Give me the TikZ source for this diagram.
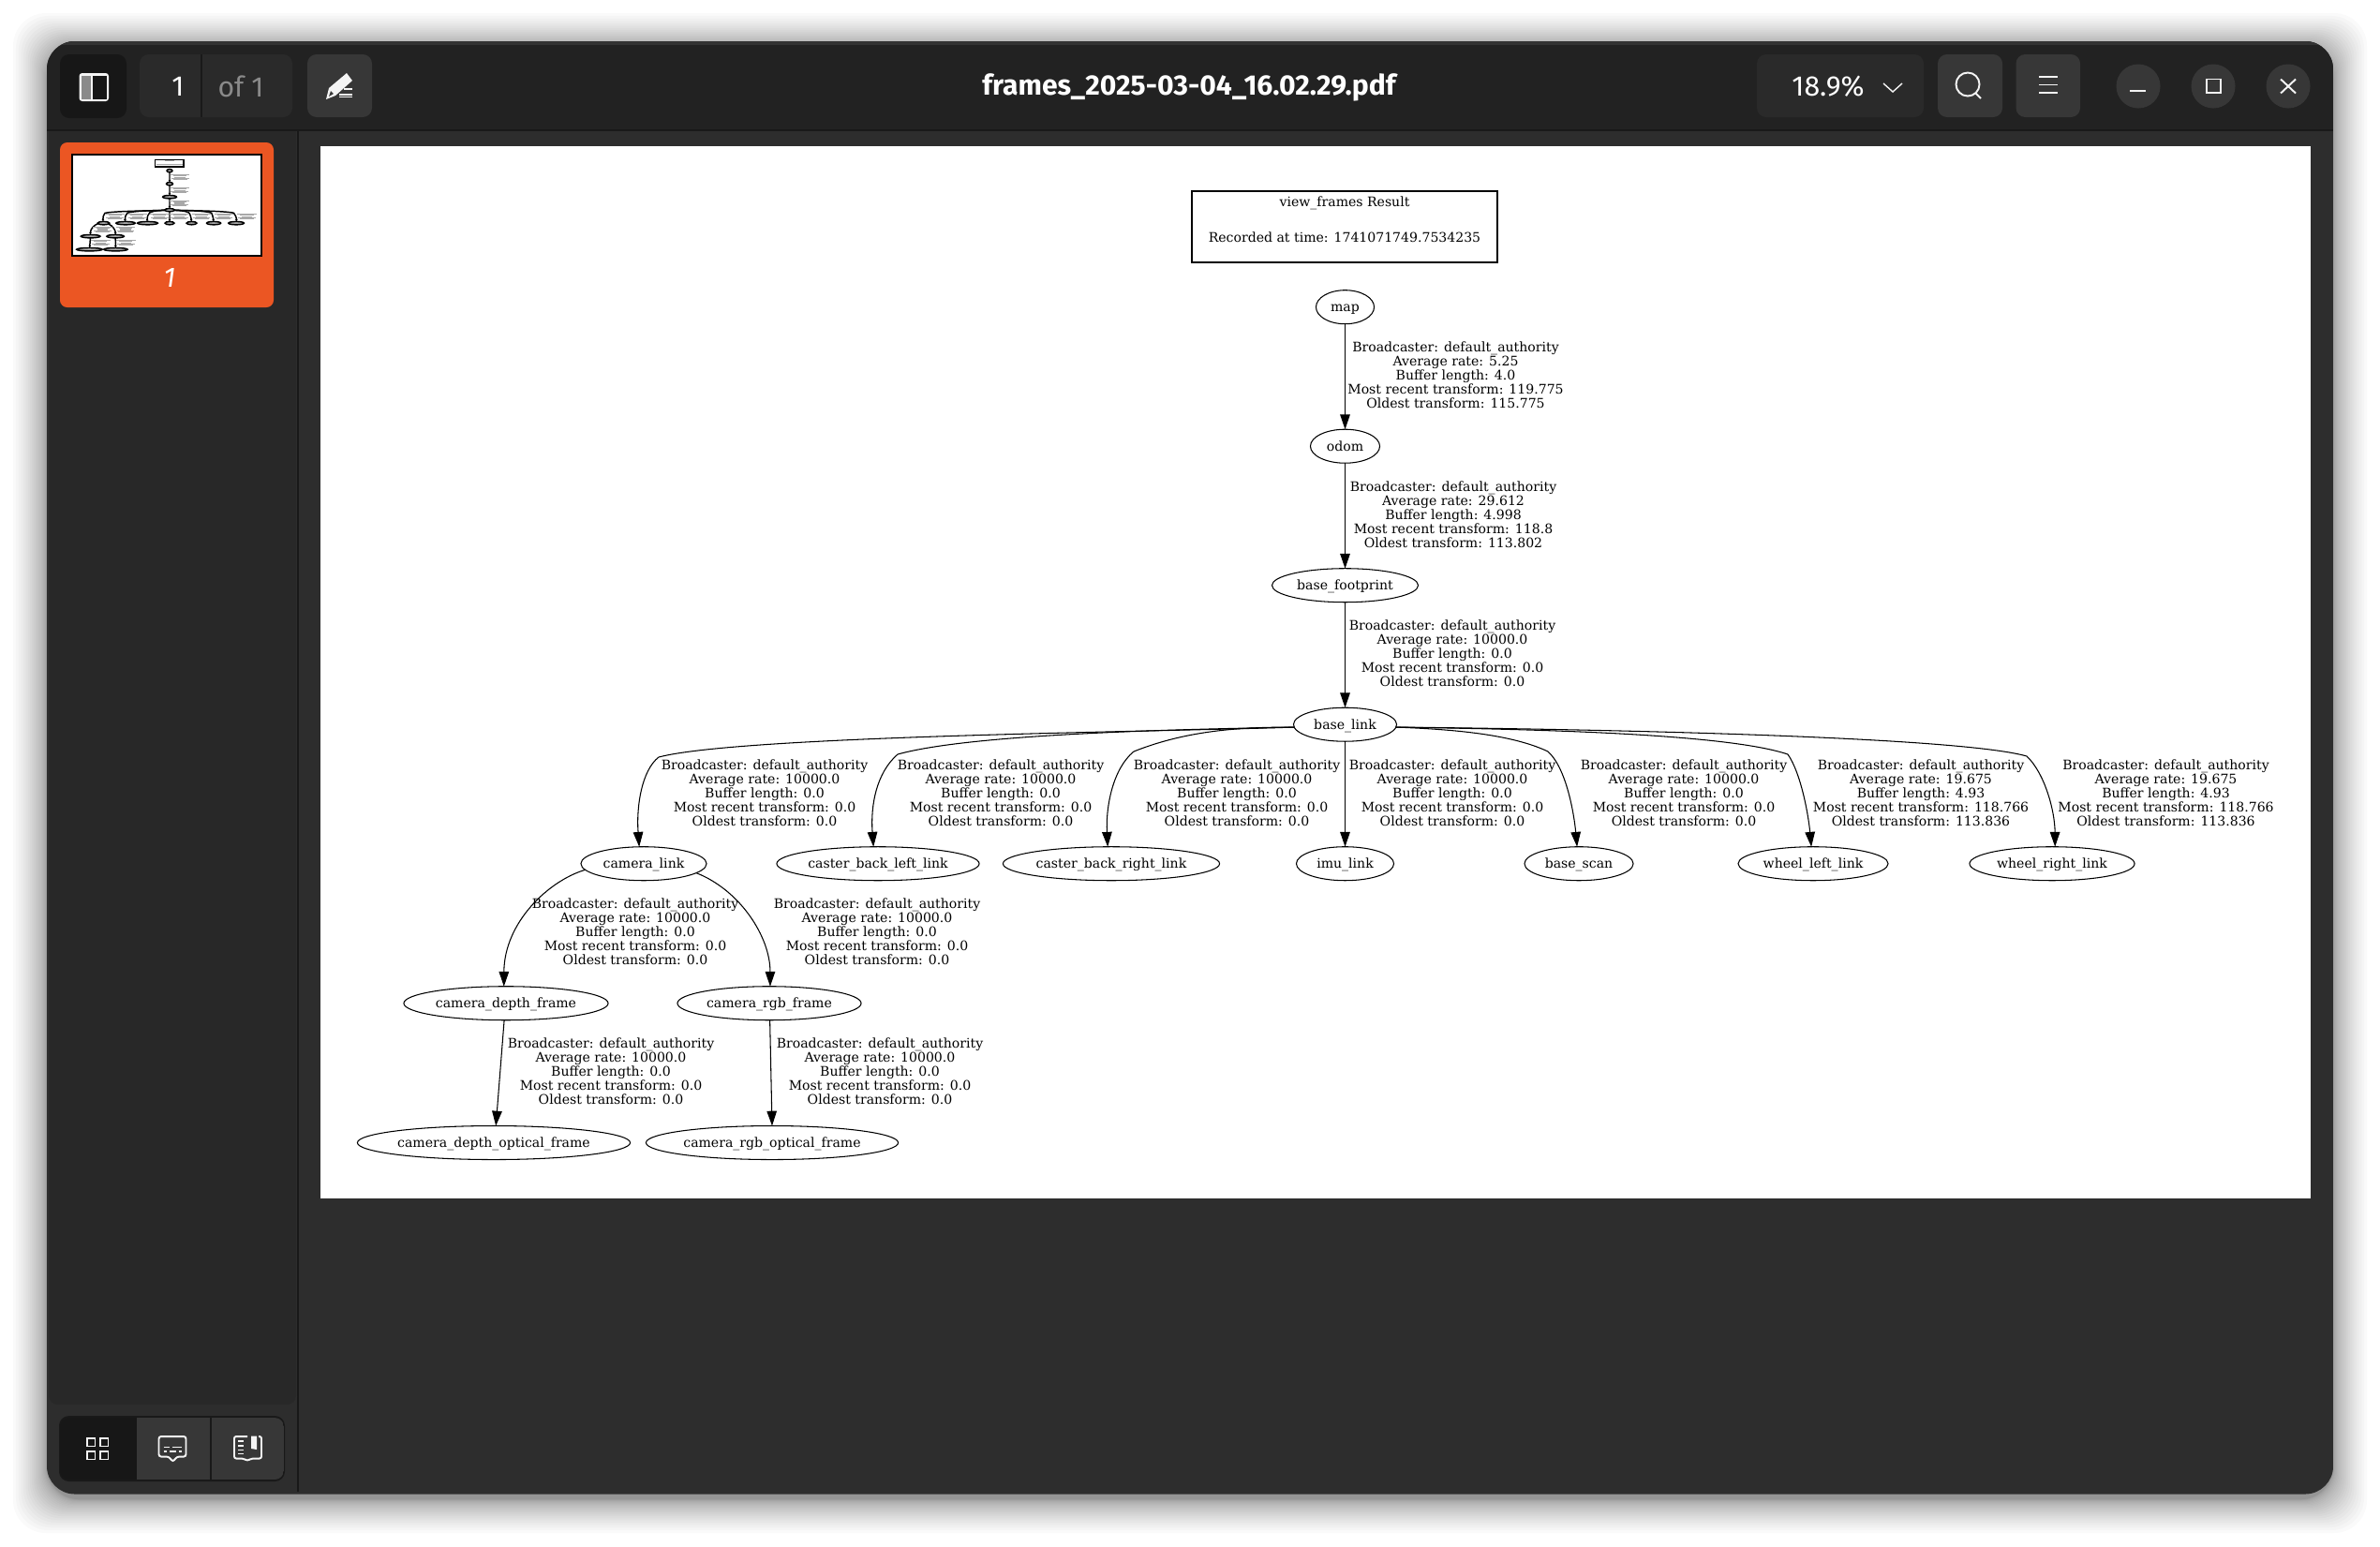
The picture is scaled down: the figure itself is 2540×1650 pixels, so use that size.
\documentclass[tikz,border=0pt]{standalone}
\usepackage{fontspec}
\usetikzlibrary{shapes.geometric,arrows.meta}
\newfontfamily\gserif{DejaVu Serif}
\newfontfamily\uifont{Fira Sans}
\definecolor{hdr}{HTML}{222222}
\definecolor{body}{HTML}{2D2D2D}
\definecolor{panel}{HTML}{282828}
\definecolor{btn}{HTML}{373737}
\definecolor{btndark}{HTML}{171717}
\definecolor{btnmid}{HTML}{2A2A2A}
\definecolor{edge}{HTML}{191919}
\definecolor{accent}{HTML}{EB5623}
\definecolor{iconw}{HTML}{F4F4F4}
\definecolor{hilite}{HTML}{333333}
\definecolor{greyui}{HTML}{8A8A8A}
\definecolor{thumbgrey}{HTML}{A8A8A8}
\def\gnw{0.3pt}\def\gal{4.5pt}\def\gaw{3.0pt}\def\gbw{0.6pt}\def\gnfill{white}
\newif\ifthumb
\tikzset{
  gnode/.style={ellipse,draw=black,fill=\gnfill,inner sep=0pt,outer sep=0pt,minimum height=0.36cm,line width=\gnw,font=\gfontcmd,text height=2.85pt,text depth=0pt},
  gbox/.style={rectangle,draw=black,inner sep=0pt,outer sep=0pt,minimum width=3.26cm,minimum height=0.76cm,line width=\gbw},
  glabel/.style={align=center,inner sep=0pt,outer sep=0pt,font=\gfontcmd},
  gtext/.style={inner sep=0pt,outer sep=0pt,font=\gfontcmd,text height=2.85pt,text depth=0pt},
  gedge/.style={draw=black,line width=\gnw,-{Triangle[length=\gal,width=\gaw]}},
  uitext/.style={inner sep=0pt,outer sep=0pt,text=white},
  iconline/.style={draw=iconw,line width=0.55pt},
}
\newcommand{\gfontcmd}{\gserif\fontsize{4.0}{4.27}\selectfont}
% node text: real text in the page, blank in the thumbnail
\newcommand{\gt}[1]{\ifthumb\else#1\fi}
% an edge label; in the thumbnail it is only the grey blur of its five lines
\newcommand{\glab}[7]{%
  \ifthumb
    \fill[thumbgrey] (#2-110,#3-36) rectangle (#2+110,#3-25);
    \fill[thumbgrey] (#2-75,#3-21) rectangle (#2+75,#3-10);
    \fill[thumbgrey] (#2-60,#3-6) rectangle (#2+60,#3+5);
    \fill[thumbgrey] (#2-100,#3+9) rectangle (#2+100,#3+20);
    \fill[thumbgrey] (#2-80,#3+24) rectangle (#2+80,#3+35);
  \else
    \node[glabel] (#1) at (#2,#3-0.5) {Broadcaster: default\_authority\\Average rate: #4\\Buffer length: #5\\Most recent transform: #6\\Oldest transform: #7};
  \fi}
\newcommand{\framesgraph}{%
  \node[gbox] (box) at (1435,242) {};
  \ifthumb
    \fill[thumbgrey] (1385,211) rectangle (1485,220);
    \fill[thumbgrey] (1290,248) rectangle (1580,258);
  \else
    \node[gtext] (boxa) at (1435,215) {view\_frames Result};
    \node[gtext] (boxb) at (1435,253) {Recorded at time: 1741071749.7534235};
  \fi
  \node[gnode,minimum width=0.62cm] (map) at (1435.5,327.7) {\gt{map}};
  \node[gnode,minimum width=0.74cm] (odom) at (1435.5,476.2) {\gt{odom}};
  \node[gnode,minimum width=1.56cm] (footprint) at (1435.5,624.7) {\gt{base\_footprint}};
  \node[gnode,minimum width=1.10cm] (baselink) at (1435.5,773.2) {\gt{base\_link}};
  \node[gnode,minimum width=1.34cm] (camlink) at (687,921.7) {\gt{camera\_link}};
  \node[gnode,minimum width=2.16cm] (casterl) at (937,921.7) {\gt{caster\_back\_left\_link}};
  \node[gnode,minimum width=2.31cm] (casterr) at (1186,921.7) {\gt{caster\_back\_right\_link}};
  \node[gnode,minimum width=1.04cm] (imu) at (1435.5,921.7) {\gt{imu\_link}};
  \node[gnode,minimum width=1.16cm] (scan) at (1685,921.7) {\gt{base\_scan}};
  \node[gnode,minimum width=1.60cm] (wheell) at (1935,921.7) {\gt{wheel\_left\_link}};
  \node[gnode,minimum width=1.76cm] (wheelr) at (2190,921.7) {\gt{wheel\_right\_link}};
  \node[gnode,minimum width=2.18cm] (depth) at (540,1070.7) {\gt{camera\_depth\_frame}};
  \node[gnode,minimum width=1.96cm] (rgb) at (821,1070.7) {\gt{camera\_rgb\_frame}};
  \node[gnode,minimum width=2.91cm] (depthopt) at (527,1219.5) {\gt{camera\_depth\_optical\_frame}};
  \node[gnode,minimum width=2.69cm] (rgbopt) at (824,1219.5) {\gt{camera\_rgb\_optical\_frame}};
  \draw[gedge] (map) -- (odom);
  \draw[gedge] (odom) -- (footprint);
  \draw[gedge] (footprint) -- (baselink);
  \draw[gedge] (baselink) -- (imu);
  \draw[gedge] (baselink.183) .. controls (1240,781) and (790,785) .. (703,808) .. controls (685,822) and (679,860) .. (camlink.105.6);
  \draw[gedge] (baselink.183) .. controls (1280,778) and (1040,782) .. (958,805) .. controls (935,825) and (929,860) .. (casterl.105.5);
  \draw[gedge] (baselink.183) .. controls (1330,776) and (1270,778) .. (1210,802) .. controls (1188,820) and (1180,860) .. (casterr.102.5);
  \draw[gedge] (baselink.-3) .. controls (1540,778) and (1610,782) .. (1652,802) .. controls (1672,820) and (1680,870) .. (scan.96);
  \draw[gedge] (baselink.-3) .. controls (1620,778) and (1840,782) .. (1908,805) .. controls (1922,825) and (1930,870) .. (wheell.96);
  \draw[gedge] (baselink.-3) .. controls (1700,778) and (2090,786) .. (2163,807) .. controls (2182,825) and (2193,865) .. (wheelr.80.5);
  \draw[gedge] (camlink.186.7) .. controls (585,940) and (538,985) .. (depth.97.6);
  \draw[gedge] (camlink.-10) .. controls (790,950) and (822,1000) .. (rgb.87);
  \draw[gedge] (depth.-96) -- (depthopt.83.6);
  \draw[gedge] (rgb.-88) -- (rgbopt.90);
  \glab{l1}{1553.5}{401}{5.25}{4.0}{119.775}{115.775}
  \glab{l2}{1551}{550}{29.612}{4.998}{118.8}{113.802}
  \glab{l3}{1550}{698}{10000.0}{0.0}{0.0}{0.0}
  \glab{l4}{816}{847}{10000.0}{0.0}{0.0}{0.0}
  \glab{l5}{1068}{847}{10000.0}{0.0}{0.0}{0.0}
  \glab{l6}{1320}{847}{10000.0}{0.0}{0.0}{0.0}
  \glab{l7}{1550}{847}{10000.0}{0.0}{0.0}{0.0}
  \glab{l8}{1797}{847}{10000.0}{0.0}{0.0}{0.0}
  \glab{l9}{2050}{847}{19.675}{4.93}{118.766}{113.836}
  \glab{l10}{2311.5}{847}{19.675}{4.93}{118.766}{113.836}
  \glab{l11}{678}{995}{10000.0}{0.0}{0.0}{0.0}
  \glab{l12}{936}{995}{10000.0}{0.0}{0.0}{0.0}
  \glab{l13}{652}{1144}{10000.0}{0.0}{0.0}{0.0}
  \glab{l14}{939}{1144}{10000.0}{0.0}{0.0}{0.0}
}
\begin{document}
\begin{tikzpicture}[x=0.01cm,y=-0.01cm]
\useasboundingbox (0,0) rectangle (2540,1650);
\fill[white] (0,0) rectangle (2540,1650);
% soft window shadow
\foreach \i in {1,...,24}{
  \pgfmathsetmacro{\sh}{\i*\i/16}
  \fill[black,opacity=0.02,rounded corners=10pt]
    ({50-\sh},{50-\sh}) rectangle ({2490+\sh},{1600+\sh});
}
% window
\begin{scope}
  \clip[rounded corners=8.5pt] (50,44) rectangle (2490,1594.5);
  \fill[body] (50,44) rectangle (2490,1594.5);
  \fill[panel,rounded corners=2.8pt] (52,130) rectangle (316,1499);
  \fill[hdr] (50,44) rectangle (2490,138);
  \fill[hilite] (50,44) rectangle (2490,48);
  \fill[edge] (50,138) rectangle (2490,140);
  \fill[edge] (316.5,140) rectangle (318.5,1592);
\end{scope}
% page
\fill[white] (342,156) rectangle (2466,1278.5);
\framesgraph
% thumbnail
\fill[accent,rounded corners=2.2pt] (64,152) rectangle (292,328);
\fill[black] (76,164) rectangle (280,274);
\fill[white] (78,166) rectangle (278,272);
\begin{scope}[shift={(45.8,151.3)},scale=0.0942,name prefix=t-,every node/.append style={scale=0.0942}]
  \thumbtrue
  \def\gnw{0.42pt}\def\gal{0.7pt}\def\gaw{0.7pt}\def\gbw{0.5pt}\def\gnfill{thumbgrey}
  \framesgraph
\end{scope}
\node[uitext,font=\uifont\itshape\fontsize{8.5}{10}\selectfont] (thumbnum) at (181,296) {1};
% toolbar left
\fill[btndark,rounded corners=2.8pt] (64,58) rectangle (135,126);
\fill[iconw,rounded corners=0.9pt] (84.5,78) rectangle (116,108);
\fill[greyui] (87,81) rectangle (97,105.5);
\fill[btndark] (99,81) rectangle (113.5,105.5);
\fill[btnmid,rounded corners=2.8pt] (149,58) rectangle (312,125);
\fill[edge] (214,58) rectangle (216,125);
\node[uitext,font=\uifont\fontsize{8.6}{10}\selectfont] (pagenum) at (190,92) {1};
\node[uitext,text=greyui,font=\uifont\fontsize{8.6}{10}\selectfont] (pageof) at (257,92) {of 1};
\fill[btn,rounded corners=2.8pt] (328,58) rectangle (397,125);
\fill[iconw] (348,106) -- (351,94) -- (370,78) -- (376,86) -- (358,102) -- cycle;
\fill[btn] (351,103) -- (353,97) -- (356,100) -- cycle;
\fill[iconw] (362,100) rectangle (376,102);\fill[iconw] (367,94) rectangle (376,96);\fill[iconw] (362,102.5) rectangle (376,104);
% title
\node[uitext,font=\uifont\bfseries\fontsize{8.56}{10}\selectfont] (title) at (1269,93.5) {frames\_2025-03-04\_16.02.29.pdf};
% toolbar right
\fill[btnmid,rounded corners=2.8pt] (1875,58) rectangle (2053,125);
\node[uitext,font=\uifont\fontsize{8.6}{10}\selectfont] (zoomtxt) at (1951,92) {18.9\%};
\draw[iconw,line width=0.4pt] (2010,89) -- (2020,98) -- (2030,89);
\fill[btn,rounded corners=2.8pt] (2068,58) rectangle (2137,125);
\draw[iconline] (2100,90) circle [radius=0.125cm];
\draw[iconline] (2108,99) -- (2114,105);
\fill[btn,rounded corners=2.8pt] (2151.5,58) rectangle (2220,125);
\draw[iconline] (2176,82) -- (2196,82);
\draw[iconline] (2176,90.5) -- (2196,90.5);
\draw[iconline] (2176,99) -- (2196,99);
\foreach \cx in {2282,2362,2442}{\fill[btn] (\cx,92) circle [radius=0.235cm];}
\draw[iconline] (2273,97) -- (2290,97);
\draw[iconline] (2354.5,84.5) rectangle (2369.5,99);
\draw[iconline] (2434,84.5) -- (2450,99.5);
\draw[iconline] (2434,99.5) -- (2450,84.5);
% bottom tabs
\fill[edge,rounded corners=3pt] (63,1511) rectangle (304,1581);
\begin{scope}
  \clip[rounded corners=2.8pt] (64,1513) rectangle (303,1579);
  \fill[btndark] (64,1513) rectangle (146,1579);
  \fill[btn] (146,1513) rectangle (224,1579);
  \fill[btn] (226,1513) rectangle (303,1579);
\end{scope}
\foreach \ix in {92.8,107.2}{\foreach \iy in {1534.8,1548.8}{
  \draw[iconw,line width=0.45pt] (\ix,\iy) rectangle ++(8.5,8.5);}}
\draw[iconline,rounded corners=0.7pt] (169.5,1533) -- (198.5,1533) -- (198.5,1554.5) -- (189,1554.5) -- (184.5,1560) -- (180,1554.5) -- (169.5,1554.5) -- cycle;
\draw[iconw,line width=0.35pt] (174.5,1544.8) -- (181,1544.8) (184,1544.8) -- (194,1544.8) (174.5,1549) -- (178,1549) (181,1549) -- (188,1549) (190.5,1549) -- (194,1549);
\draw[iconline,rounded corners=0.6pt] (264,1533) -- (250,1533) -- (250,1556.5) -- (260,1556.5) -- (264,1559) -- (268,1556.5) -- (279,1556.5) -- (279,1533) -- (276,1533);
\fill[iconw] (268,1532.5) -- (274,1532.5) -- (274,1547) -- (268,1546) -- cycle;
\foreach \ly in {1538,1543,1547.5,1551.5}{\draw[iconw,line width=0.35pt] (254,\ly) -- (260,\ly);}
\end{tikzpicture}
\end{document}
